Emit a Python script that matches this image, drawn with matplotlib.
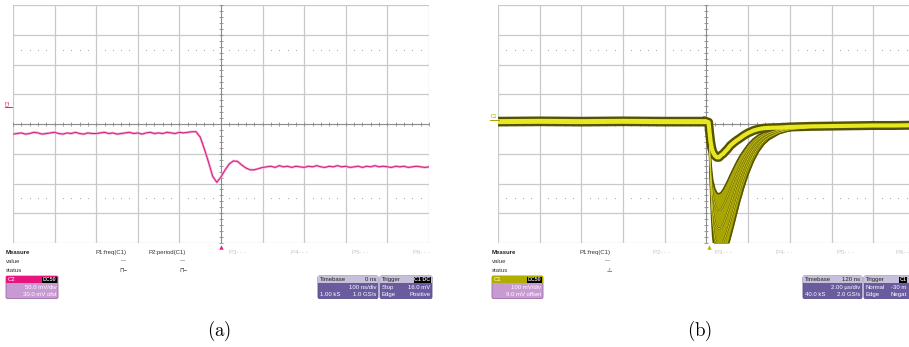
import matplotlib
matplotlib.use("Agg")
import matplotlib.pyplot as plt
from matplotlib.patches import FancyBboxPatch, Rectangle

plt.rcParams['font.family'] = ['Liberation Sans', 'DejaVu Sans']
plt.rcParams['mathtext.fontset'] = 'cm'

# ---------------- data: panel (a) magenta trace, time ns / mV ----------------
t_a = [-500, -490, -480, -470, -460, -450, -440, -430, -420, -410, -400, -390, -380, -370,
       -360, -350, -340, -330, -320, -310, -300, -290, -280, -270, -260, -250, -240, -230,
       -220, -210, -200, -190, -180, -170, -160, -150, -140, -130, -120, -110, -100, -90,
       -80, -70, -60, -50, -40, -30, -20, -10, 0, 10, 20, 30, 40, 50, 60, 70, 80, 90, 100,
       110, 120, 130, 140, 150, 160, 170, 180, 190, 200, 210, 220, 230, 240, 250, 260, 270,
       280, 290, 300, 310, 320, 330, 340, 350, 360, 370, 380, 390, 400, 410, 420, 430, 440,
       450, 460, 470, 480, 490, 500]
v_a = [-17, -16, -15, -17, -16, -14, -15, -17, -16, -15, -14, -16, -17, -15,
       -16, -14, -16, -17, -15, -16, -16, -15, -14, -16, -15, -17, -16, -15,
       -14, -16, -15, -17, -15, -14, -16, -15, -16, -14, -15, -16, -14, -15,
       -14, -13, -13, -22, -42, -64, -88, -98, -89, -77, -67, -62, -63, -69, -74, -77, -77, -75, -73,
       -72, -71, -73, -70, -72, -71, -73, -71, -72, -73, -71, -72, -70, -72, -73, -71, -72,
       -70, -72, -71, -73, -72, -71, -73, -71, -72, -70, -72, -71, -72, -73, -71, -72, -71,
       -73, -72, -71, -72, -73, -72]

# ---------------- data: panel (b) persistence traces, time us / mV ----------------
t_pre = [-10, -8, -6, -4, -2, 0.0]
v_pre = [8, 9, 8, 9, 8, 8]
t_b = [0.0, 0.1, 0.15, 0.2, 0.25, 0.3, 0.4, 0.5, 0.6, 0.7, 0.8, 0.9, 1.0, 1.15,
       1.3, 1.45, 1.6, 1.8, 2.0, 2.25, 2.5, 2.75, 3.0, 3.5, 4.0, 5.0, 6.0, 7.0,
       8.0, 9.0, 10.0]
upper_mv = [8, 6, -30, -60, -80, -93, -106, -112, -112, -105, -100, -92, -85, -72,
            -63, -55, -48, -38, -30, -22, -17, -14, -13, -12, -10, -8, -7, -6,
            -5, -5, -4]
lower_235 = [8, 6, -60, -120, -160, -190, -218, -232, -235, -230, -220, -207, -193, -170,
             -148, -127, -108, -87, -68, -50, -37, -28, -22, -15, -12, -9, -7, -6,
             -5, -5, -4]
lower_290 = [8, 6, -75, -150, -205, -240, -272, -287, -290, -286, -275, -260, -244, -218,
             -192, -166, -142, -114, -90, -67, -50, -38, -29, -19, -14, -10, -8, -6,
             -5, -5, -4]
lower_350 = [8, 6, -85, -175, -245, -290, -330, -347, -352, -348, -337, -320, -300, -270,
             -238, -206, -177, -143, -113, -84, -62, -47, -36, -23, -16, -11, -8, -6,
             -5, -5, -4]
lower_410 = [8, 6, -98, -205, -285, -335, -385, -405, -412, -409, -397, -380, -358, -324,
             -288, -252, -218, -176, -140, -104, -77, -57, -44, -28, -19, -12, -9, -7,
             -6, -5, -5]
lower_470 = [8, 6, -110, -230, -320, -380, -440, -465, -472, -470, -458, -440, -418, -380,
             -340, -298, -258, -210, -168, -125, -92, -68, -52, -32, -22, -13, -9, -7,
             -6, -5, -5]

# ---------------- text ----------------
meas_a = ["P1:freq(C1)", "P2:period(C1)"]
meas_b = ["P1:freq(C1)"]
chan_a = ["C2", "DC50", "50.0 mV/div", "30.0 mV ofst"]
chan_b = ["C1", "DC50", "100 mV/div", "9.0 mV offset"]
tb_a = ["Timebase", "0 ns", "100 ns/div", "1.00 kS", "1.0 GS/s"]
tb_b = ["Timebase", "120 ns", "2.00 \u00b5s/div", "40.0 kS", "2.0 GS/s"]
trig_a = ["Trigger", "C1 DC", "Stop", "16.0 mV", "Edge", "Positive"]
trig_b = ["Trigger", "C1", "Normal", "-30 m", "Edge", "Negat"]

W, H = 909, 347
fig = plt.figure(figsize=(W / 100, H / 100), dpi=100)
fig.patch.set_facecolor('white')

GRID = '#c9c9c9'
AXC = '#8a8a8a'


def scope_axes(x0, x1, y0, y1, xl, yl):
    ax = fig.add_axes([x0 / W, 1 - y1 / H, (x1 - x0) / W, (y1 - y0) / H])
    ax.set_xlim(*xl)
    ax.set_ylim(*yl)
    ax.axis('off')
    dx = (xl[1] - xl[0]) / 10
    dy = (yl[1] - yl[0]) / 8
    for i in range(11):
        ax.axvline(xl[0] + i * dx, color=GRID, lw=0.9, zorder=1)
    for j in range(9):
        ax.axhline(yl[0] + j * dy, color=GRID, lw=0.9, zorder=1)
    xc = (xl[0] + xl[1]) / 2
    yc = (yl[0] + yl[1]) / 2
    ax.axvline(xc, color=AXC, lw=0.7, zorder=1.5)
    ax.axhline(yc, color=AXC, lw=0.7, zorder=1.5)
    tx = [xl[0] + k * dx / 5 for k in range(51)]
    ty = [yl[0] + k * dy / 5 for k in range(41)]
    ax.plot(tx, [yc] * len(tx), ls='none', marker='|', ms=3.5, mew=0.6, color=AXC, zorder=1.5)
    ax.plot([xc] * len(ty), ty, ls='none', marker='_', ms=3.5, mew=0.6, color=AXC, zorder=1.5)
    dots = [xl[0] + k * dx / 5 for k in range(51) if k % 5 != 0]
    for yy in (yc + 2.5 * dy, yc - 2.5 * dy):
        ax.plot(dots, [yy] * len(dots), ls='none', marker='s', ms=0.8, mew=0, color='#b0b0b0', zorder=1)
    return ax


# ---- panel (a)
axa = scope_axes(13, 429, 5, 243, (-500, 500), (-200, 200))
axa.plot(t_a, v_a, color='#f0b0d0', lw=1.8, zorder=3, solid_joinstyle='round')
axa.plot(t_a, v_a, color='#d81f82', lw=0.75, zorder=4, solid_joinstyle='round')

# ---- panel (b)
axb = scope_axes(498, 915, 5, 243, (-10, 10), (-400, 400))
DARK = '#555300'
YEL = '#e8e820'
lowers = [lower_235, lower_290, lower_350, lower_410, lower_470]
axb.fill_between(t_b, lower_235, lower_470, color='#a8a400', lw=0, zorder=2)
for cur in lowers:
    axb.plot(t_b, cur, color=DARK, lw=1.2, zorder=3)
axb.plot(t_pre, v_pre, color=DARK, lw=7, zorder=3, solid_capstyle='butt')
axb.plot(t_b, upper_mv, color=DARK, lw=6.5, zorder=3, solid_joinstyle='round')
for cur in lowers[1:-1]:
    axb.plot(t_b, cur, color='#d8d430', lw=0.6, zorder=4)
axb.plot(t_pre, v_pre, color=YEL, lw=3.6, zorder=5, solid_capstyle='butt')
axb.plot(t_b, upper_mv, color=YEL, lw=3.0, zorder=5, solid_joinstyle='round')

# ---------------- overlay in pixel coordinates ----------------
ov = fig.add_axes([0, 0, 1, 1], zorder=10)
ov.set_xlim(0, W)
ov.set_ylim(H, 0)
ov.axis('off')
ov.patch.set_alpha(0)

FS = 4.3
ov.plot([221], [246.5], marker='^', ms=3.2, color='#e0207f', mew=0, clip_on=False)
ov.plot([708.5], [246.5], marker='^', ms=3.2, color='#b8b000', mew=0, clip_on=False)
ov.text(8, 103, "C2", fontsize=3.6, color='#e0207f', rotation=90, ha='center', va='center')
ov.plot([5, 12], [107, 107], color='#e0207f', lw=0.7)
ov.text(494, 116.5, "C1", fontsize=3.6, color='#a8a400', ha='center', va='center')
ov.plot([490, 499], [120, 120], color='#a8a400', lw=0.7)


def measure_block(x0, meas, mx, gray):
    ov.text(x0, 252.3, "Measure", fontsize=FS, fontweight='bold', va='center', color='#222222')
    ov.text(x0, 261.2, "value", fontsize=FS, va='center', color='#333333')
    ov.text(x0, 270, "status", fontsize=FS, va='center', color='#333333')
    for lab, xr in zip(meas, mx):
        ov.text(xr, 252.3, lab, fontsize=FS, va='center', ha='right', color='#333333')
        ov.text(xr, 261.2, "---", fontsize=FS, va='center', ha='right', color='#333333')
    for (lab, x) in gray:
        ov.text(x, 252.3, lab, fontsize=FS, va='center', ha='left', color='#c4c4c4')


measure_block(6, meas_a, [127, 186], [("P3- - -", 229), ("P4- - -", 291), ("P5- - -", 352), ("P6- - -", 413)])
ov.text(123, 270, "\u2293\u2212", fontsize=FS, va='center', ha='center', color='#333333')
ov.text(183, 270, "\u2293\u2212", fontsize=FS, va='center', ha='center', color='#333333')
measure_block(492, meas_b, [611], [("P2- - -", 653), ("P3- - -", 715), ("P4- - -", 776), ("P5- - -", 837), ("P6- -", 896)])
ov.text(609, 270, "\u26a0", fontsize=FS, va='center', ha='center', color='#333333')


def rbox(x0, x1, y0, y1, fc, ec):
    p = FancyBboxPatch((x0, y0), x1 - x0, y1 - y0, boxstyle='round,pad=0,rounding_size=1.5',
                       fc=fc, ec=ec, lw=0.6, clip_on=False)
    ov.add_patch(p)


def badge(xr, y, txt):
    ov.text(xr, y, txt, fontsize=3.8, color='#dddddd', ha='right', va='center', fontweight='bold',
            bbox=dict(boxstyle='square,pad=0.15', fc='black', ec='none'))


def chan_box(x0, x1, lab, hdr, body, hdr_txt):
    rbox(x0, x1, 276, 298.5, body, '#9c6aa8')
    ov.add_patch(Rectangle((x0 + 0.4, 276.4), x1 - x0 - 0.8, 6.8, fc=hdr, ec='none'))
    ov.text(x0 + 2, 279.8, lab[0], fontsize=FS, color=hdr_txt, va='center')
    badge(x1 - 1.5, 279.8, lab[1])
    ov.text(x1 - 1.5, 287.8, lab[2], fontsize=FS, color='white', ha='right', va='center')
    ov.text(x1 - 1.5, 294.3, lab[3], fontsize=FS, color='white', ha='right', va='center')


def tb_box(x0, x1, lab):
    rbox(x0, x1, 276, 298.5, '#6a5b9e', '#5a4c8a')
    ov.add_patch(Rectangle((x0 + 0.4, 276.4), x1 - x0 - 0.8, 6.8, fc='#c6c0da', ec='none'))
    ov.text(x0 + 2, 279.8, lab[0], fontsize=FS, color='#222222', va='center')
    ov.text(x1 - 1.5, 279.8, lab[1], fontsize=FS, color='#222222', ha='right', va='center')
    ov.text(x1 - 1.5, 287.8, lab[2], fontsize=FS, color='white', ha='right', va='center')
    ov.text(x0 + 2, 294.3, lab[3], fontsize=FS, color='white', va='center')
    ov.text(x1 - 1.5, 294.3, lab[4], fontsize=FS, color='white', ha='right', va='center')


def trig_box(x0, x1, lab):
    rbox(x0, x1, 276, 298.5, '#6a5b9e', '#5a4c8a')
    ov.add_patch(Rectangle((x0 + 0.4, 276.4), x1 - x0 - 0.8, 6.8, fc='#c6c0da', ec='none'))
    ov.text(x0 + 2, 279.8, lab[0], fontsize=FS, color='#222222', va='center')
    badge(min(x1, 908) - 1.5, 279.8, lab[1])
    ov.text(x0 + 2, 287.8, lab[2], fontsize=FS, color='white', va='center')
    ov.text(min(x1, 908) - 1.5, 287.8, lab[3], fontsize=FS, color='white', ha='right', va='center')
    ov.text(x0 + 2, 294.3, lab[4], fontsize=FS, color='white', va='center')
    ov.text(min(x1, 908) - 1.5, 294.3, lab[5], fontsize=FS, color='white', ha='right', va='center')


chan_box(6, 58, chan_a, '#e8157f', '#c89ad2', 'white')
tb_box(318, 378, tb_a)
trig_box(380, 432, trig_a)

chan_box(492, 543, chan_b, '#b2ae00', '#c89ad2', 'white')
tb_box(803, 862, tb_b)
trig_box(864, 922, trig_b)

ov.text(219, 331, r'$(\mathrm{a})$', fontsize=13.5, ha='center', va='center')
ov.text(700, 331, r'$(\mathrm{b})$', fontsize=13.5, ha='center', va='center')

fig.savefig('out.png', dpi=100)
